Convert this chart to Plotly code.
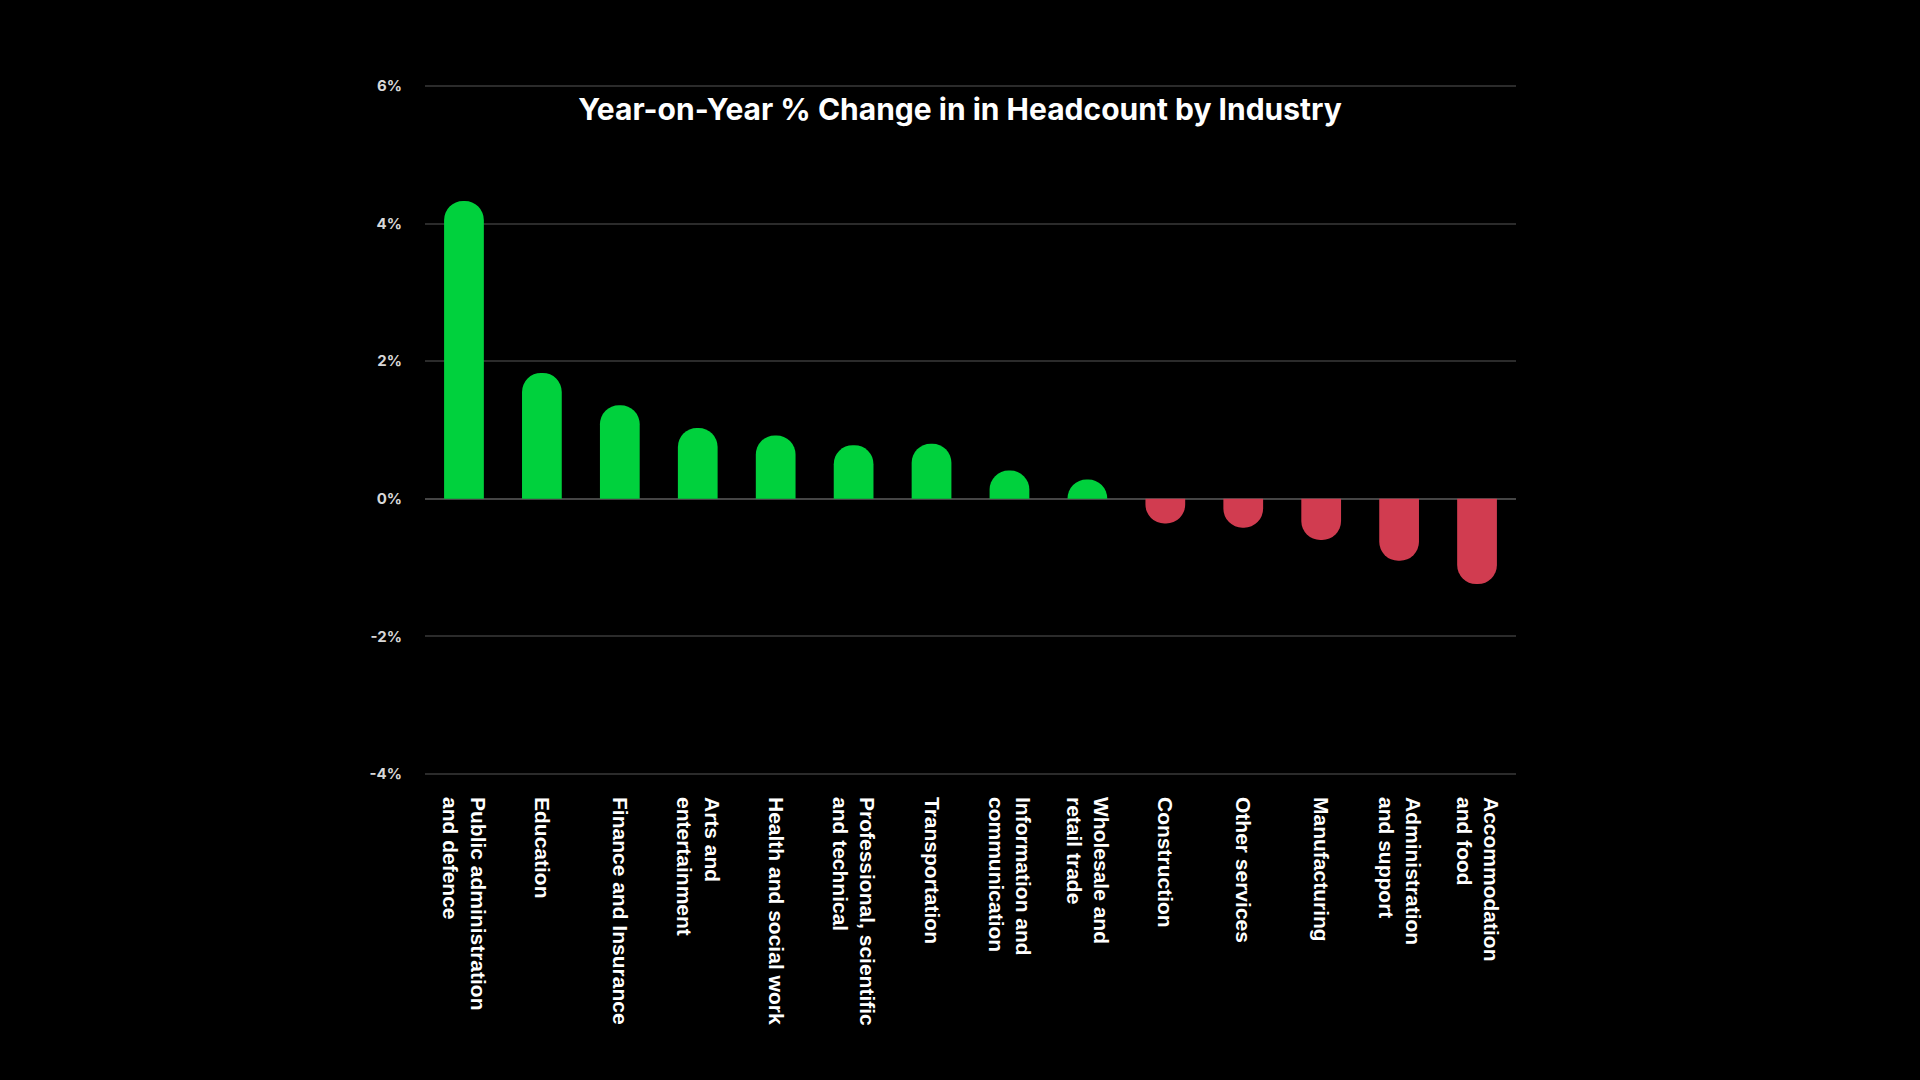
import plotly.graph_objects as go

categories = [
    "Public administration<br>and defence",
    "Education",
    "Finance and Insurance",
    "Arts and<br>entertainment",
    "Health and social work",
    "Professional, scientific<br>and technical",
    "Transportation",
    "Information and<br>communication",
    "Wholesale and<br>retail trade",
    "Construction",
    "Other services",
    "Manufacturing",
    "Administration<br>and support",
    "Accommodation<br>and food",
]
values = [4.33, 1.83, 1.36, 1.03, 0.92, 0.78, 0.80, 0.41, 0.28, -0.36, -0.42, -0.60, -0.90, -1.24]
tick_vals = [-4, -2, 0, 2, 4, 6]
tick_text = ["-4%", "-2%", "0%", "2%", "4%", "6%"]

GREEN = "#00D13D"
RED = "#D13C50"
colors = [GREEN if v >= 0 else RED for v in values]

fig = go.Figure(
    go.Bar(
        x=categories,
        y=values,
        marker=dict(color=colors, line=dict(width=0), cornerradius=20),
        hoverinfo="skip",
    )
)

fig.update_layout(
    width=1920,
    height=1080,
    paper_bgcolor="#000000",
    plot_bgcolor="#000000",
    margin=dict(l=425, r=404, t=84, b=304, pad=0),
    bargap=0.49,
    showlegend=False,
    title=dict(
        text="<b>Year-on-Year % Change in in Headcount by Industry</b>",
        x=0.5,
        xanchor="center",
        xref="container",
        y=1 - 109 / 1080,
        yanchor="middle",
        yref="container",
        font=dict(family="Inter", size=30, color="#ffffff"),
    ),
)

fig.update_xaxes(
    tickangle=90,
    tickfont=dict(family="Liberation Sans", size=21, color="#ffffff", weight="bold"),
    showgrid=False,
    showline=False,
    zeroline=False,
    ticks="",
    ticklabelstandoff=20,
)

fig.update_yaxes(
    range=[-4.03, 6.03],
    tickvals=tick_vals,
    ticktext=tick_text,
    tickfont=dict(family="Inter", size=15, color="#d8d8d8", weight="bold"),
    showgrid=True,
    gridcolor="#2b2b2b",
    gridwidth=2,
    zeroline=True,
    zerolinecolor="#454545",
    zerolinewidth=2,
    showline=False,
    ticks="",
    ticklabelstandoff=22,
)

fig.write_html(
    "out.html",
    config={"displayModeBar": False},
    post_script="document.body.style.margin='0';document.body.style.background='#000';",
)
